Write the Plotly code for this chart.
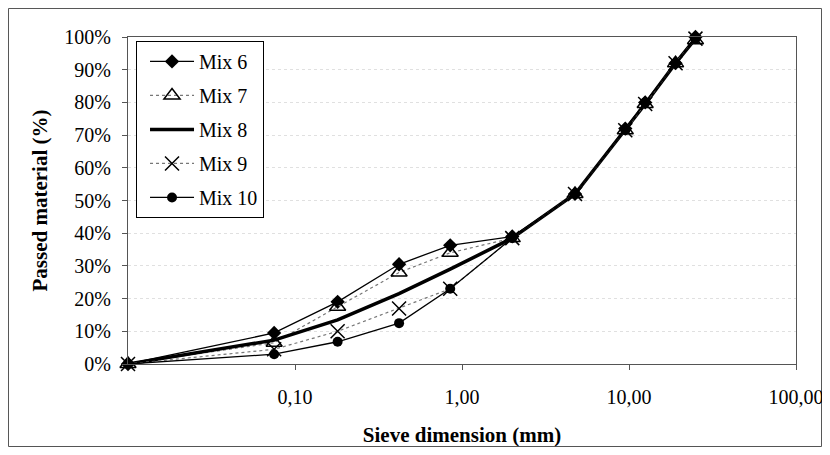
import plotly.graph_objects as go

sieve_mm = [0.01, 0.075, 0.18, 0.42, 0.85, 2.0, 4.75, 9.5, 12.5, 19.0, 25.0]
mix6 = [0, 9.5, 19, 30.5, 36.3, 39, 52, 72, 80, 92, 100]
mix7 = [0, 6.5, 17.5, 28, 34, 38.5, 52, 71.5, 79.5, 92, 99]
mix8 = [0, 7.3, 13.5, 21.5, 29, 38.5, 52, 71.5, 79.5, 92, 99.5]
mix9 = [0, 4.5, 10, 17, 23, 38.5, 52, 71.5, 79.5, 92, 99.5]
mix10 = [0, 3, 6.8, 12.5, 23, 38.5, 52, 71.5, 80, 92, 99.5]

x_tickvals = [0.1, 1, 10, 100]
x_ticktext = ["0,10", "1,00", "10,00", "100,00"]
y_tickvals = list(range(0, 101, 10))
y_ticktext = [f"{v}%" for v in y_tickvals]

font = "Liberation Serif, Times New Roman, serif"

fig = go.Figure()
fig.add_trace(go.Scatter(x=sieve_mm, y=mix6, name="Mix 6", mode="lines+markers",
                         legendgroup="g6", cliponaxis=False,
                         line=dict(color="black", width=1.3),
                         marker=dict(symbol="diamond", size=11, color="black")))
fig.add_trace(go.Scatter(x=sieve_mm, y=mix7, name="Mix 7", mode="lines+markers",
                         legendgroup="g7", cliponaxis=False,
                         line=dict(color="#777777", width=1.2, dash="dot"),
                         marker=dict(symbol="triangle-up-open", size=14, color="black",
                                     line=dict(width=1.5, color="black"))))
fig.add_trace(go.Scatter(x=sieve_mm, y=mix8, name="Mix 8", mode="lines",
                         legendgroup="g8", cliponaxis=False,
                         line=dict(color="black", width=3.5)))
fig.add_trace(go.Scatter(x=sieve_mm, y=mix9, name="Mix 9", mode="lines+markers",
                         legendgroup="g9", cliponaxis=False,
                         line=dict(color="#777777", width=1.2, dash="dot"),
                         marker=dict(symbol="x-thin-open", size=14, color="black",
                                     line=dict(width=1.5, color="black"))))
fig.add_trace(go.Scatter(x=sieve_mm, y=mix10, name="Mix 10", mode="lines+markers",
                         legendgroup="g10", cliponaxis=False,
                         line=dict(color="black", width=1.3),
                         marker=dict(symbol="circle", size=10, color="black")))

# The page body has an 8px margin on every side, so the figure is 16px smaller than the window.
fig.update_layout(
    width=814, height=439,
    margin=dict(l=120, r=26, t=29, b=83),
    paper_bgcolor="white", plot_bgcolor="white",
    font=dict(family=font, size=20, color="black"),
    showlegend=True,
    legend=dict(x=0.012, y=0.988, xanchor="left", yanchor="top",
                bordercolor="black", borderwidth=1, bgcolor="white",
                font=dict(family=font, size=20), tracegroupgap=5,
                itemwidth=44, indentation=8),
    xaxis=dict(type="log", range=[-2, 2], tickvals=x_tickvals, ticktext=x_ticktext,
               showline=True, linecolor="#555555", linewidth=1, mirror=True,
               ticks="outside", ticklen=5, tickcolor="#555555",
               tickfont=dict(family=font, size=20), ticklabeloverflow="allow",
               ticklabelstandoff=10, showgrid=False, zeroline=False, automargin=False,
               title=dict(text="<b>Sieve dimension (mm)</b>", standoff=22,
                          font=dict(family=font, size=21))),
    yaxis=dict(range=[0, 100], tickvals=y_tickvals, ticktext=y_ticktext,
               showline=True, linecolor="#555555", linewidth=1, mirror=True,
               ticks="outside", ticklen=5, tickcolor="#555555",
               tickfont=dict(family=font, size=20), ticklabelstandoff=7,
               showgrid=True, gridcolor="#e0e0e0", griddash="dot", gridwidth=1,
               zeroline=False, automargin=False,
               title=dict(text="<b>Passed material (%)</b>", standoff=10,
                          font=dict(family=font, size=21))),
)

fig.add_shape(type="rect", xref="paper", yref="paper",
              x0=-0.1789, x1=1.0382, y0=-0.2523, y1=1.0872,
              line=dict(color="#555555", width=1), layer="below")

fig.write_html("out.html")
